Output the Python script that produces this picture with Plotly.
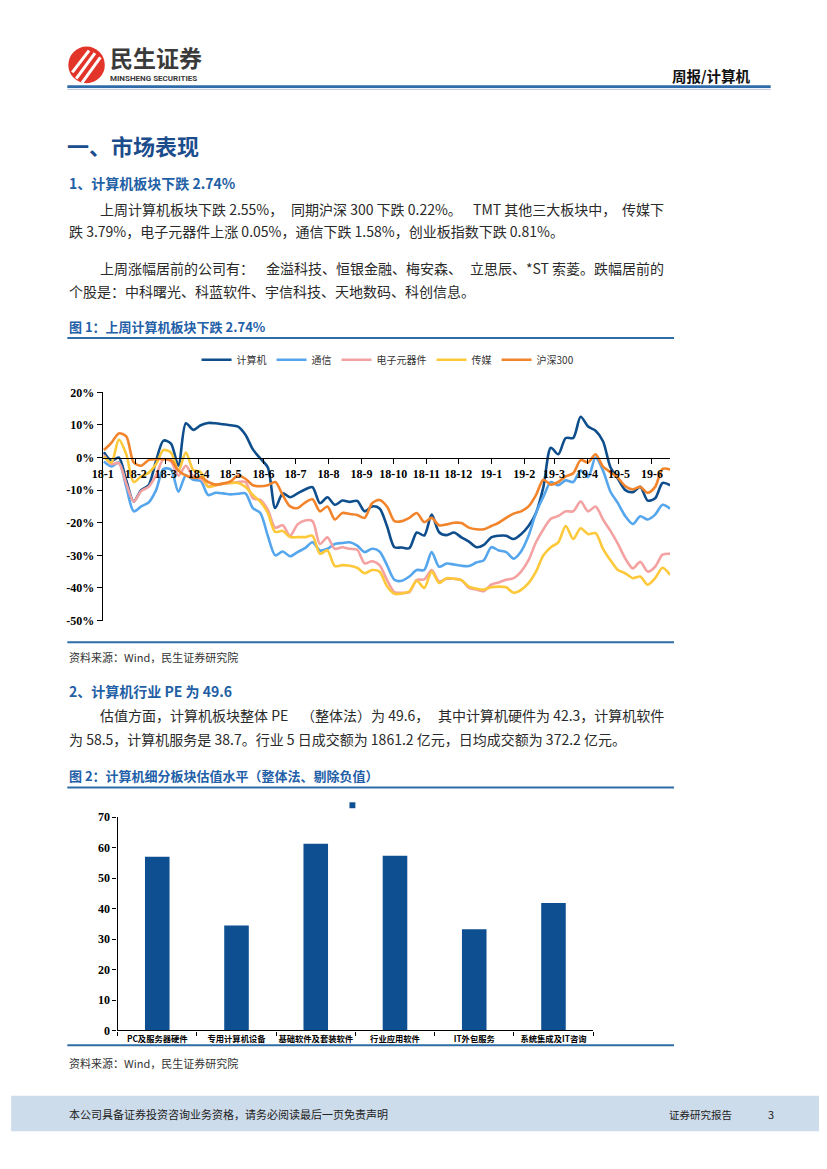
import pandas as pd
import plotly.graph_objects as go

# page is 827x1169; the browser adds an 8px body margin, keep the figure inside the window
OFF = 8
FW, FH = 811, 1150

# ---------------- data: figure 1 (weekly cumulative change, %) ----------------
dates = pd.date_range("2018-01-02", periods=77, freq="7D")

computer = [1.6, -1.0, 0.0, -7, -13.5, -10, -8.5, -1, 5.2, 4.3, -2.5, 10.5, 8.5, 9.9, 10.6, 10.5,
            10.2, 9.9, 9.5, 7, 2.5, -0.3, -3, -15.5, -11, -12.2, -11, -9.8, -9.1, -14, -12.2, -14.5,
            -13.2, -13.6, -13.3, -16.5, -15, -15.6, -21, -27.5, -27.6, -27.8, -23, -23.9, -17.5, -22.9,
            -23.8, -23, -24.5, -25.8, -27.5, -26.8, -24.5, -24, -24, -25, -23.5, -21, -17, -9, 3, 1,
            6, 6, 12.5, 9.5, 8.2, 5, -3, -6.5, -10, -10.6, -9, -13.2, -12.5, -7.8, -8.5]
telecom = [-1.2, -2.7, -1.5, -9, -16.5, -15, -13.8, -10, -3.5, -3.7, -10.5, -5.5, -6.8, -7.2, -11.5,
           -10.8, -11, -11.3, -11.1, -11, -15.5, -17, -24, -30, -28.8, -30.3, -29, -27.8, -26, -28.5,
           -28, -26.5, -26.2, -26, -27, -29, -28, -28.8, -33, -37.5, -37.8, -36.5, -34.5, -34.5, -29,
           -33.5, -32.5, -32.8, -33.2, -33.3, -32.2, -31.5, -27.5, -28.5, -29, -31, -28.8, -24, -17,
           -12, -7.5, -8.5, -7, -7.5, -4, -6, 0, -4, -10.5, -14, -18, -20.4, -18, -19, -17.5, -14.5, -15.7]
electronic = [0.8, -2, -1.7, -8, -13.5, -10.3, -9, -5.5, -0.5, -1.2, -5.5, -2.5, -5.8, -6.5, -8.8,
              -8.5, -8, -7.8, -7.5, -7.5, -12.5, -13, -16, -21.5, -20.8, -24, -20.5, -19.3, -19.5,
              -26.5, -24.5, -28, -27.5, -28, -28.3, -32.5, -31.8, -33, -37.5, -41.3, -41.5, -41.3,
              -37.5, -37.4, -34.5, -38, -37.2, -37.2, -37.6, -40, -40.5, -41, -39, -38.3, -37.5, -37,
              -35, -31.5, -26, -22, -18.8, -17.9, -16.5, -16.5, -13.5, -16.5, -15, -19, -22.5, -26.5,
              -31, -34, -32, -35, -33.5, -29.8, -29.5]
media = [0.3, -1.5, 5.5, 1, -7.5, -5.8, -4.7, -2, 2.3, 1.5, -4, 1.5, -3.8, -4.5, -9, -8.5, -8,
         -7.8, -7.8, -9, -11.5, -13.5, -17, -22.8, -22.5, -24.4, -24.4, -24.4, -24, -29.5, -28.5,
         -33.3, -33, -33.2, -33.8, -35.5, -34.5, -35, -39.5, -41.8, -41.7, -41, -37.8, -40, -35,
         -38.5, -37, -37.2, -37.6, -39.6, -40.2, -40.5, -39.8, -39.6, -39.8, -41.5, -40.6, -38.5,
         -35, -30, -27.5, -26, -21, -25, -21.7, -23.5, -23.2, -28, -31.5, -34.5, -35.5, -37, -36.5,
         -39, -37, -33.8, -36]
hs300 = [2.3, 4.5, 7.4, 6.5, -1.5, -2.5, -0.8, -0.5, -0.5, -0.8, -4, -5.5, -6.2, -6, -7.5, -8.3,
         -8, -7.3, -5.5, -6.5, -8.5, -8.8, -8.5, -7.5, -11.5, -15, -15.5, -13.8, -12.8, -16.5, -15,
         -19, -17, -17.3, -17.6, -18.5, -14, -13, -15, -19.5, -19.5, -18.5, -17, -19.8, -18.5, -20.8,
         -20.5, -20, -20.1, -21.5, -22, -22, -21, -20, -18.5, -17.2, -16.5, -15, -11.5, -6.8, -8.3,
         -7.5, -5.8, -4.8, -0.8, -1.5, 1, -2.8, -4.5, -6.2, -8.8, -9.8, -9, -10.8, -9, -3.5, -3.7]

series_names = ["计算机", "通信", "电子元器件", "传媒", "沪深300"]
series_colors = ["#0F4E8C", "#55A6EC", "#F4A1A1", "#FDC93A", "#F2842C"]

month_ticks = ["2018-01-01", "2018-02-01", "2018-03-01", "2018-04-01", "2018-05-01", "2018-06-01",
               "2018-07-01", "2018-08-01", "2018-09-01", "2018-10-01", "2018-11-01", "2018-12-01",
               "2019-01-01", "2019-02-01", "2019-03-01", "2019-04-01", "2019-05-01", "2019-06-01"]
month_labels = ["18-1", "18-2", "18-3", "18-4", "18-5", "18-6", "18-7", "18-8", "18-9", "18-10",
                "18-11", "18-12", "19-1", "19-2", "19-3", "19-4", "19-5", "19-6"]
pct_ticks = [-50, -40, -30, -20, -10, 0, 10, 20]
pct_labels = ["-50%", "-40%", "-30%", "-20%", "-10%", "0%", "10%", "20%"]

# ---------------- data: figure 2 (PE by sub-sector) ----------------
pe_categories = ["PC及服务器硬件", "专用计算机设备", "基础软件及套装软件", "行业应用软件", "IT外包服务", "系统集成及IT咨询"]
pe_values = [57.0, 34.4, 61.3, 57.3, 33.2, 41.8]
pe_ticks = [0, 10, 20, 30, 40, 50, 60, 70]


def X(px):
    return (px - OFF) / FW


def Y(py):
    return 1 - (py - OFF) / FH


CJK = "Noto Sans CJK SC"
SERIF = "Liberation Serif"
BLUE_TXT = "#1F5FA5"

fig = go.Figure()

for name, vals, col in zip(series_names,
                           [computer, telecom, electronic, media, hs300],
                           series_colors):
    fig.add_trace(go.Scatter(x=dates, y=vals, name=name, mode="lines",
                             line=dict(color=col, width=2.6, shape="spline", smoothing=0.8),
                             xaxis="x", yaxis="y", hoverinfo="skip"))

fig.add_trace(go.Bar(x=pe_categories, y=pe_values, marker=dict(color="#0E4F91", line=dict(width=0)),
                     xaxis="x2", yaxis="y2", showlegend=False, hoverinfo="skip"))

shapes = []


def hline(x0, x1, y, color, width):
    shapes.append(dict(type="line", xref="paper", yref="paper", x0=X(x0), x1=X(x1), y0=Y(y), y1=Y(y),
                       line=dict(color=color, width=width)))


# header rules
hline(57, 770, 80.5, "#2F6BA8", 2.6)
hline(57, 770, 83.2, "#B4C3D6", 1)
# figure frames
hline(57, 672, 335, "#2E6CA6", 2)
hline(57, 672, 643, "#2E6CA6", 2)
hline(57, 672, 790, "#2E6CA6", 2)
hline(57, 672, 1051, "#2E6CA6", 2)
# footer band
shapes.append(dict(type="rect", xref="paper", yref="paper", x0=X(0), x1=X(827), y0=Y(1138), y1=Y(1102),
                   fillcolor="#CDDCEB", line=dict(width=0), layer="below"))
# logo
shapes.append(dict(type="circle", xref="paper", yref="paper", x0=X(58), x1=X(95), y0=Y(77), y1=Y(40),
                   fillcolor="#E3342A", line=dict(width=0)))
for (a, b, c, d) in [(62, 66, 79, 44), (66, 72.5, 85, 46.5), (72, 76.5, 90.5, 51)]:
    shapes.append(dict(type="line", xref="paper", yref="paper", x0=X(a), y0=Y(b), x1=X(c), y1=Y(d),
                       line=dict(color="white", width=3)))
# small square above figure 2
shapes.append(dict(type="rect", xref="paper", yref="paper", x0=X(343), x1=X(349), y0=Y(811), y1=Y(805),
                   fillcolor="#0E4F91", line=dict(width=0)))

annotations = []


def txt(s, x, y, size, color="#222222", bold=False, anchor="left", family=CJK):
    annotations.append(dict(text=("<b>%s</b>" % s) if bold else s, x=X(x), y=Y(y), xref="paper",
                            yref="paper", xanchor=anchor, yanchor="middle", showarrow=False,
                            font=dict(family=family, size=size, color=color)))


# header
txt("民生证券", 98, 51, 23, "#3A3A3A", True)
txt("MINSHENG SECURITIES", 98, 72.5, 8, "#3A3A3A", True, family="Roboto")
txt("周报/计算机", 668, 69, 14.5, "#111111", True)

# section 1
txt("一、市场表现", 55, 140, 22, "#1B4C8C", True)
txt("1、计算机板块下跌 2.74%", 57, 178, 14, BLUE_TXT, True)
BODY = 14
BODY_C = "#2A2A2A"
txt("上周计算机板块下跌 2.55%，", 88, 204, BODY, BODY_C)
txt("同期沪深 300 下跌 0.22%。", 282, 204, BODY, BODY_C)
txt("TMT 其他三大板块中，", 466, 204, BODY, BODY_C)
txt("传媒下", 664, 204, BODY, BODY_C, anchor="right")
txt("跌 3.79%，电子元器件上涨 0.05%，通信下跌 1.58%，创业板指数下跌 0.81%。", 57, 227, BODY, BODY_C)
txt("上周涨幅居前的公司有：", 88, 264, BODY, BODY_C)
txt("金溢科技、恒银金融、梅安森、", 256, 264, BODY, BODY_C)
txt("立思辰、*ST 索菱。跌幅居前的", 664, 264, BODY, BODY_C, anchor="right")
txt("个股是：中科曙光、科蓝软件、宇信科技、天地数码、科创信息。", 57, 287, BODY, BODY_C)

txt("图 1：上周计算机板块下跌 2.74%", 57, 323, 13, "#2360A8", True)
txt("资料来源：Wind，民生证券研究院", 57, 658, 11, "#333333")

# section 2
txt("2、计算机行业 PE 为 49.6", 57, 692, 14, BLUE_TXT, True)
txt("估值方面，计算机板块整体 PE", 88, 717, BODY, BODY_C)
txt("（整体法）为 49.6，", 292, 717, BODY, BODY_C)
txt("其中计算机硬件为 42.3，计算机软件", 664, 717, BODY, BODY_C, anchor="right")
txt("为 58.5，计算机服务是 38.7。行业 5 日成交额为 1861.2 亿元，日均成交额为 372.2 亿元。", 57, 741, BODY, BODY_C)

txt("图 2：计算机细分板块估值水平（整体法、剔除负值）", 57, 778, 13, "#2360A8", True)
txt("资料来源：Wind，民生证券研究院", 57, 1069, 11, "#333333")

# footer
txt("本公司具备证券投资咨询业务资格，请务必阅读最后一页免责声明", 57, 1121, 11, "#222222")
txt("证券研究报告", 665, 1121, 10.5, "#222222")
txt("3", 765, 1121, 11, "#222222")

fig.update_layout(
    width=FW, height=FH, margin=dict(l=0, r=0, t=0, b=0),
    paper_bgcolor="white", plot_bgcolor="white",
    shapes=shapes, annotations=annotations,
    bargap=0.69,
    showlegend=True,
    legend=dict(orientation="h", x=X(188), xanchor="left", y=Y(357), yanchor="middle",
                font=dict(family=CJK, size=10, color="#333333"), bgcolor="rgba(0,0,0,0)",
                itemwidth=30, tracegroupgap=0),
    xaxis=dict(domain=[X(93), X(668)], anchor="free", position=Y(456), type="date",
               range=["2018-01-01", "2019-06-18"], tickvals=month_ticks, ticktext=month_labels,
               ticks="outside", ticklen=5, tickcolor="black", showline=True, linecolor="black",
               linewidth=1.3, showgrid=False, zeroline=False,
               tickfont=dict(family=SERIF, size=12, color="black", weight="bold")),
    yaxis=dict(domain=[Y(621), Y(390)], range=[-50, 20], anchor="x", tickvals=pct_ticks,
               ticktext=pct_labels, ticks="outside", ticklen=5, tickcolor="black", showline=True,
               linecolor="black", linewidth=1.3, showgrid=False, zeroline=False,
               tickfont=dict(family=SERIF, size=12, color="black", weight="bold")),
    xaxis2=dict(domain=[X(108), X(590)], anchor="y2", type="category", tickson="boundaries",
                ticks="outside", ticklen=4, tickcolor="black", showline=True, linecolor="black",
                linewidth=1.3, showgrid=False, zeroline=False, tickangle=0,
                tickfont=dict(family=CJK, size=8.3, color="black", weight="bold")),
    yaxis2=dict(domain=[Y(1036), Y(820)], range=[0, 70], anchor="x2", tickvals=pe_ticks,
                ticks="outside", ticklen=4, tickcolor="black", showline=True, linecolor="black",
                linewidth=1.3, showgrid=False, zeroline=False,
                tickfont=dict(family=SERIF, size=12, color="black", weight="bold")),
)

fig.write_html("out.html", config={"displayModeBar": False})
